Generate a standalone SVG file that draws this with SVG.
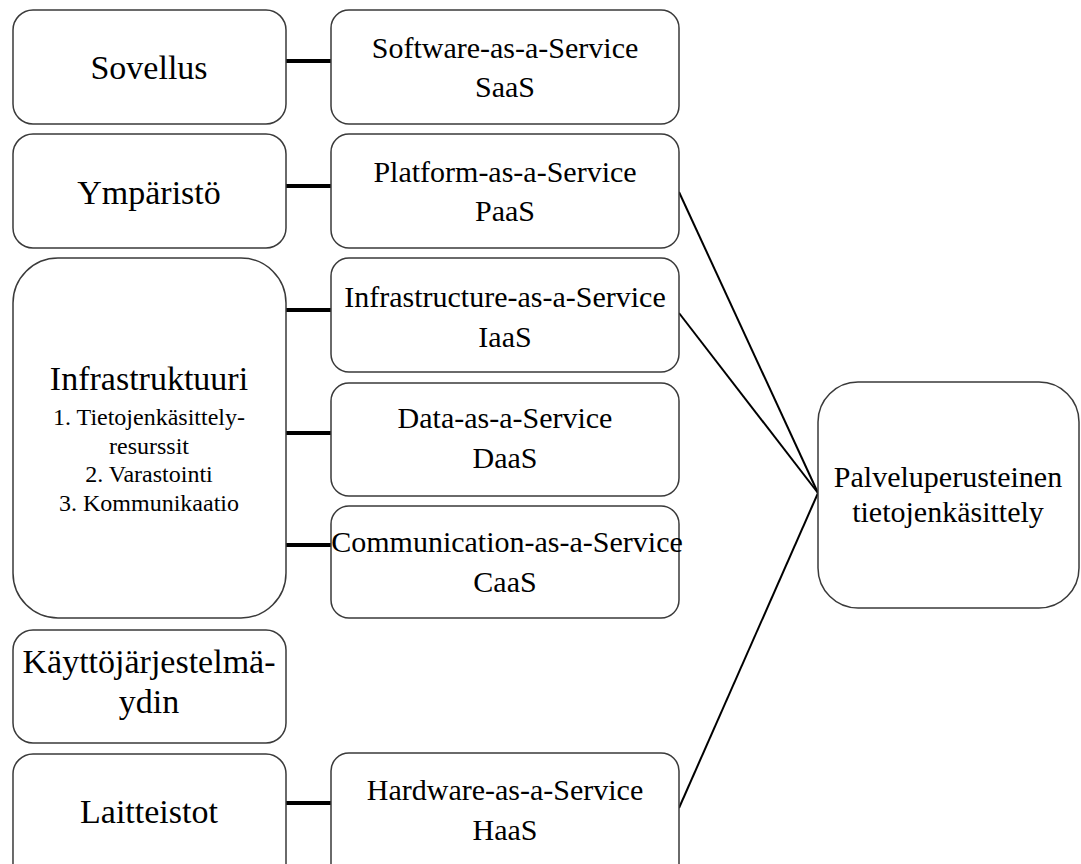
<svg xmlns="http://www.w3.org/2000/svg" width="1081" height="864" viewBox="0 0 1081 864">
  <style>
    .box { fill: #ffffff; stroke: #3a3a3a; stroke-width: 1.5; }
    .t { font-family: "Liberation Serif", "Times New Roman", serif; fill: #000000; text-anchor: middle; }
    .big { font-size: 34px; }
    .mid { font-size: 30px; }
    .small { font-size: 24px; }
    .thick { stroke: #000000; stroke-width: 4; fill: none; }
    .thin { stroke: #000000; stroke-width: 2; fill: none; }
  </style>
  <rect width="1081" height="864" fill="#ffffff"/>

  <!-- links between layers, services and the service-based computing node -->
  <g id="connectors">
    <line class="thick" x1="286" y1="61" x2="331" y2="61"/>
    <line class="thick" x1="286" y1="186" x2="331" y2="186"/>
    <line class="thick" x1="286" y1="310" x2="331" y2="310"/>
    <line class="thick" x1="286" y1="433" x2="331" y2="433"/>
    <line class="thick" x1="286" y1="545" x2="331" y2="545"/>
    <line class="thick" x1="286" y1="803" x2="331" y2="803"/>
    <line class="thin" x1="679" y1="192" x2="818" y2="493"/>
    <line class="thin" x1="679" y1="313" x2="818" y2="493"/>
    <line class="thin" x1="679" y1="808" x2="818" y2="493"/>
  </g>

  <!-- layer column -->
  <g id="sovellus">
    <rect class="box" x="13" y="10" width="273" height="114" rx="20"/>
    <text class="t big" x="149" y="79">Sovellus</text>
  </g>
  <g id="ymparisto">
    <rect class="box" x="13" y="134" width="273" height="114" rx="20"/>
    <text class="t big" x="149" y="204">Ympäristö</text>
  </g>
  <g id="infrastruktuuri">
    <rect class="box" x="13" y="258" width="273" height="360" rx="45"/>
    <text class="t big" x="149" y="390">Infrastruktuuri</text>
    <text class="t small" x="149" y="425">1. Tietojenkäsittely-</text>
    <text class="t small" x="149" y="454">resurssit</text>
    <text class="t small" x="149" y="482">2. Varastointi</text>
    <text class="t small" x="149" y="511">3. Kommunikaatio</text>
  </g>
  <g id="kayttojarjestelmaydin">
    <rect class="box" x="13" y="630" width="273" height="113" rx="20"/>
    <text class="t big" x="149" y="673">Käyttöjärjestelmä-</text>
    <text class="t big" x="149" y="713">ydin</text>
  </g>
  <g id="laitteistot">
    <rect class="box" x="13" y="754" width="273" height="130" rx="20"/>
    <text class="t big" x="149" y="823">Laitteistot</text>
  </g>

  <!-- service column -->
  <g id="saas">
    <rect class="box" x="331" y="10" width="348" height="114" rx="18"/>
    <text class="t mid" x="505" y="58">Software-as-a-Service</text>
    <text class="t mid" x="505" y="97">SaaS</text>
  </g>
  <g id="paas">
    <rect class="box" x="331" y="134" width="348" height="114" rx="18"/>
    <text class="t mid" x="505" y="182">Platform-as-a-Service</text>
    <text class="t mid" x="505" y="221">PaaS</text>
  </g>
  <g id="iaas">
    <rect class="box" x="331" y="258" width="348" height="114" rx="18"/>
    <text class="t mid" x="505" y="307">Infrastructure-as-a-Service</text>
    <text class="t mid" x="505" y="347">IaaS</text>
  </g>
  <g id="daas">
    <rect class="box" x="331" y="383" width="348" height="113" rx="18"/>
    <text class="t mid" x="505" y="428">Data-as-a-Service</text>
    <text class="t mid" x="505" y="468">DaaS</text>
  </g>
  <g id="caas">
    <rect class="box" x="331" y="506" width="348" height="112" rx="18"/>
    <text class="t mid" x="507" y="552">Communication-as-a-Service</text>
    <text class="t mid" x="505" y="592">CaaS</text>
  </g>
  <g id="haas">
    <rect class="box" x="331" y="753" width="348" height="130" rx="18"/>
    <text class="t mid" x="505" y="800">Hardware-as-a-Service</text>
    <text class="t mid" x="505" y="840">HaaS</text>
  </g>

  <!-- service-based computing -->
  <g id="palveluperusteinen">
    <rect class="box" x="818" y="382" width="261" height="226" rx="40"/>
    <text class="t mid" x="948" y="487">Palveluperusteinen</text>
    <text class="t mid" x="948" y="522">tietojenkäsittely</text>
  </g>
</svg>
